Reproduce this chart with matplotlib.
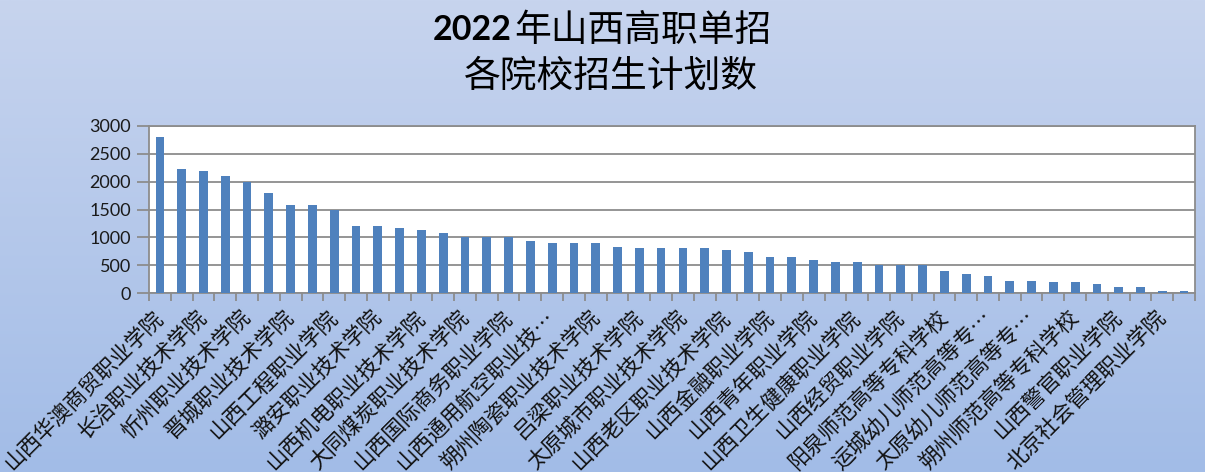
"""2022年山西高职单招 各院校招生计划数 -- 柱状图复刻."""

import matplotlib
matplotlib.use("Agg")
import matplotlib.pyplot as plt
import numpy as np

# --- 数据 --------------------------------------------------------------
# 48 所院校的招生计划数, 按从大到小排列
plan_counts = [
    2800, 2220, 2190, 2100, 2000, 1790, 1580, 1580, 1500, 1200,
    1200, 1160, 1130, 1070, 1000, 1000, 1000, 935, 890, 890,
    890, 820, 800, 800, 800, 800, 780, 730, 640, 640,
    600, 550, 550, 500, 500, 500, 390, 350, 300, 210,
    210, 190, 190, 170, 100, 100, 30, 30,
]

# 原图只显示了隔一个类别的标签 (第 1, 3, 5, ... 个)
shown_labels = [
    "山西华澳商贸职业学院", "长治职业技术学院", "忻州职业技术学院",
    "晋城职业技术学院", "山西工程职业学院", "潞安职业技术学院",
    "山西机电职业技术学院", "大同煤炭职业技术学院", "山西国际商务职业学院",
    "山西通用航空职业技…", "朔州陶瓷职业技术学院", "吕梁职业技术学院",
    "太原城市职业技术学院", "山西老区职业技术学院", "山西金融职业学院",
    "山西青年职业学院", "山西卫生健康职业学院", "山西经贸职业学院",
    "阳泉师范高等专科学校", "运城幼儿师范高等专…", "太原幼儿师范高等专…",
    "朔州师范高等专科学校", "山西警官职业学院", "北京社会管理职业学院",
]

y_ticks = [0, 500, 1000, 1500, 2000, 2500, 3000]

# --- 样式 ------------------------------------------------------------------
BAR_BLUE = "#4f81bd"
GRID_GREY = "#8c8c8c"
CJK = ["Noto Sans CJK SC", "DejaVu Sans"]
NUM = ["Lato", "DejaVu Sans"]

fig = plt.figure(figsize=(12.05, 4.72), dpi=100)

# 背景渐变 (上浅下深的淡蓝)
bg = fig.add_axes([0, 0, 1, 1], zorder=-10)
top = np.array([199, 212, 238]) / 255.0
bottom = np.array([162, 188, 231]) / 255.0
t = np.linspace(0, 1, 256)[:, None]
grad = (1 - t) * top + t * bottom
bg.imshow(grad[:, None, :].repeat(2, axis=1), aspect="auto",
          extent=[0, 1, 0, 1], origin="upper")
bg.set_axis_off()

ax = fig.add_axes([149 / 1205, 1 - 293 / 472, (1195 - 149) / 1205,
                   (293 - 126) / 472])
ax.set_facecolor("white")

x = np.arange(len(plan_counts))
ax.bar(x, plan_counts, width=0.4, color=BAR_BLUE, zorder=3)

ax.set_xlim(-0.5, len(plan_counts) - 0.5)
ax.set_ylim(0, 3000)
ax.set_yticks(y_ticks)
ax.set_yticklabels([str(v) for v in y_ticks], family=NUM, fontsize=13,
                   color="#1a1a1a")
ax.yaxis.grid(True, color=GRID_GREY, linewidth=1.3, zorder=0)
ax.tick_params(axis="y", length=9, width=1.3, color=GRID_GREY, pad=4)

# 类别标签: 只标奇数位置, 刻度线在类别边界
ax.set_xticks(x[::2])
ax.set_xticklabels(shown_labels, family=CJK, fontsize=15.5, rotation=45,
                   ha="right", va="center", rotation_mode="anchor",
                   color="#111111")
ax.tick_params(axis="x", which="major", length=0, pad=15)
ax.set_xticks(np.arange(len(plan_counts) + 1) - 0.5, minor=True)
ax.tick_params(axis="x", which="minor", length=6, width=1.3,
               color=GRID_GREY)

for side in ["left", "bottom", "top", "right"]:
    ax.spines[side].set_color(GRID_GREY)
    ax.spines[side].set_linewidth(1.3)

# 标题: "2022" 为粗体, 其余常规
fig.text(512 / 1205, 1 - 30 / 472, "2022", family=NUM, fontsize=24.5,
         fontweight="bold", ha="right", va="center", color="black")
fig.text(514 / 1205, 1 - 30 / 472, "年山西高职单招", family=CJK,
         fontsize=26.5, ha="left", va="center", color="black")
fig.text(611 / 1205, 1 - 76 / 472, "各院校招生计划数", family=CJK,
         fontsize=26.5, ha="center", va="center", color="black")

fig.savefig("out.png", dpi=100)
